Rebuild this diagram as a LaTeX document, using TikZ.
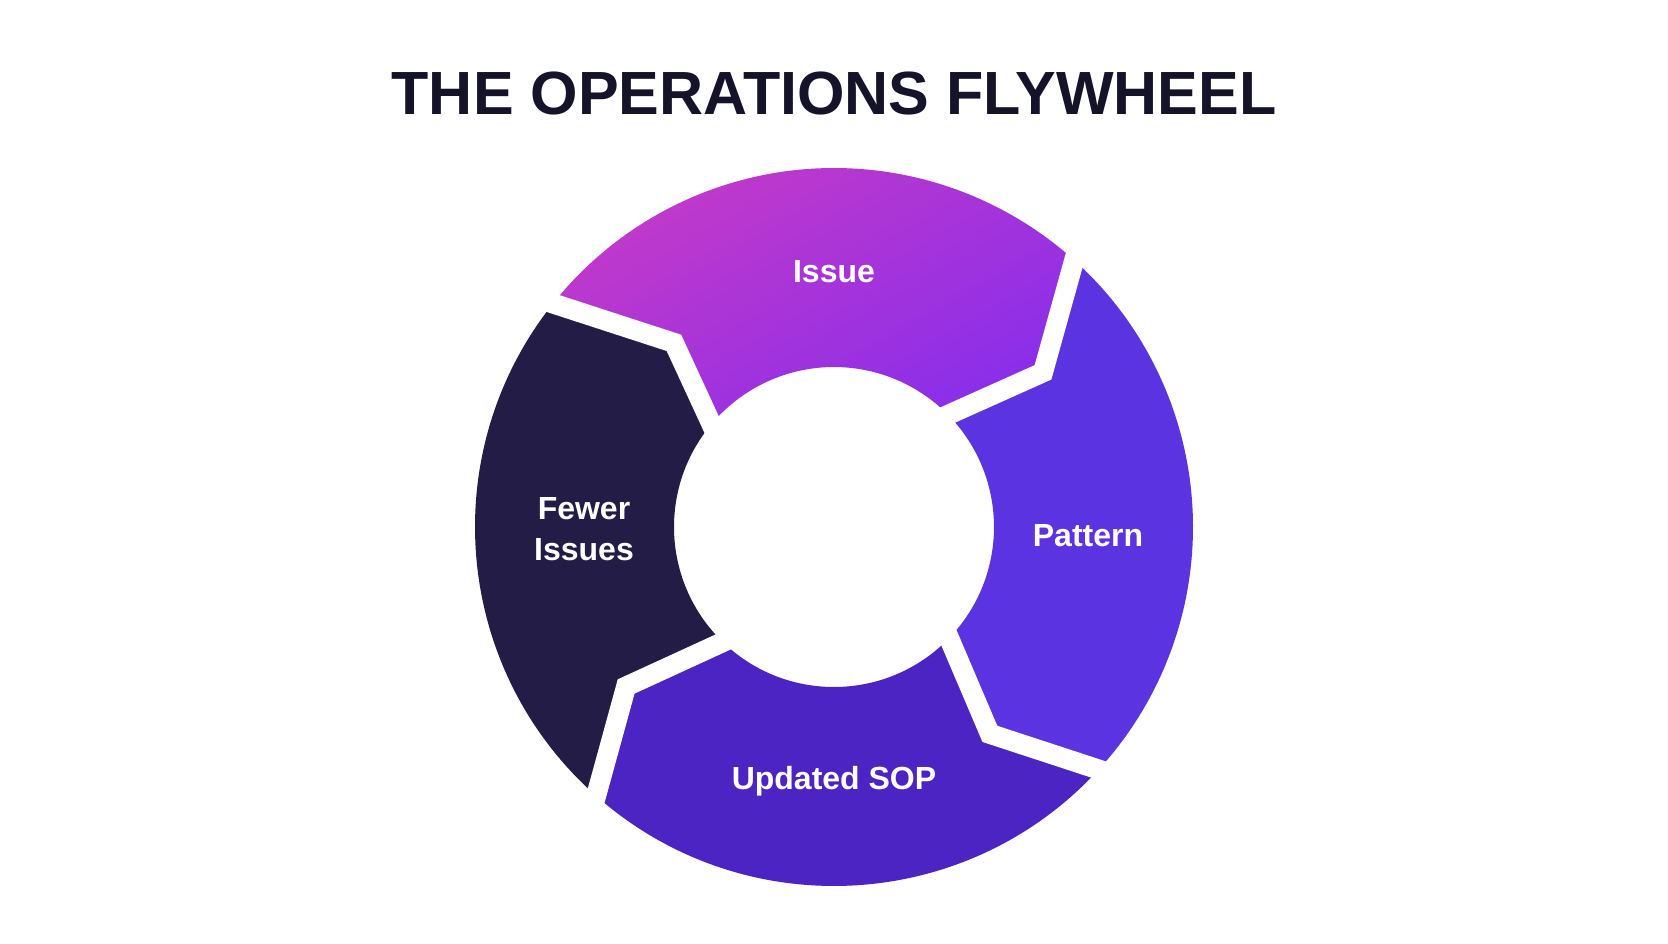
\documentclass[tikz,border=0pt]{standalone}
\usepackage{fontspec}
\setmainfont{Liberation Sans}
\usetikzlibrary{calc}
\definecolor{issueTop}{HTML}{C53AC8}
\definecolor{issueBot}{HTML}{8A2EEA}
\definecolor{patternC}{HTML}{5B33E0}
\definecolor{sopC}{HTML}{4B24C3}
\definecolor{fewerC}{HTML}{231C47}
\definecolor{titleC}{HTML}{14132A}
\begin{document}
\begin{tikzpicture}[x=1pt,y=1pt,
  seglabel/.style={text=white,font=\fontsize{32}{41.5}\selectfont\bfseries,align=center,anchor=base,inner sep=0pt},
  gapline/.style={white,line width=20pt,line join=miter,line cap=butt},
  segfill/.style={draw=none}]
\useasboundingbox[fill=white] (-834,-416) rectangle (834,527);
% boundary points: inner, kink, outer
\coordinate (b1i) at (44.5:160);
\coordinate (b1k) at (36.5:260);
\coordinate (b1o) at (48:359);
\coordinate (b2i) at (-44:160);
\coordinate (b2k) at (-53:259);
\coordinate (b2o) at (-42.5:359);
\coordinate (b3i) at (-134:160);
\coordinate (b3k) at (-142.5:262);
\coordinate (b3o) at (-131.5:359);
\coordinate (b4i) at (140:160);
\coordinate (b4k) at (131:244);
\coordinate (b4o) at (141.5:359);
% segments
\shade[segfill,top color=issueTop,bottom color=issueBot,shading angle=30]
  (b4i) -- (b4k) -- (b4o) arc[start angle=141.5,end angle=48,radius=359]
  -- (b1k) -- (b1i) arc[start angle=44.5,end angle=140,radius=160] -- cycle;
\fill[segfill,patternC]
  (b1i) -- (b1k) -- (b1o) arc[start angle=48,end angle=-42.5,radius=359]
  -- (b2k) -- (b2i) arc[start angle=-44,end angle=44.5,radius=160] -- cycle;
\fill[segfill,sopC]
  (b2i) -- (b2k) -- (b2o) arc[start angle=-42.5,end angle=-131.5,radius=359]
  -- (b3k) -- (b3i) arc[start angle=-134,end angle=-44,radius=160] -- cycle;
\fill[segfill,fewerC]
  (b3i) -- (b3k) -- (b3o) arc[start angle=-131.5,end angle=-218.5,radius=359]
  -- (b4k) -- (b4i) arc[start angle=-220,end angle=-134,radius=160] -- cycle;
% gaps
\foreach \b in {b1,b2,b3,b4}{
  \draw[gapline] ($(\b k)!1.35!(\b i)$) -- (\b k) -- ($(\b k)!1.3!(\b o)$);
}
% title
\node[text=titleC,font=\fontsize{61}{70}\selectfont\bfseries,anchor=base,inner sep=0pt] (title) at (0,412) {THE OPERATIONS FLYWHEEL};
% labels
\node[seglabel] (issue) at (0,244) {Issue};
\node[seglabel] (pattern) at (254,-19.6) {Pattern};
\node[seglabel] (sop) at (0,-262) {Updated SOP};
\node[seglabel] (fewer) at (-250,-33.5) {Fewer\\Issues};
\end{tikzpicture}
\end{document}
